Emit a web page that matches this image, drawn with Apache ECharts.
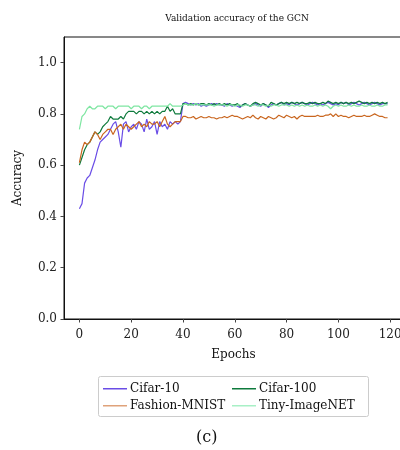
<!DOCTYPE html>
<html>
<head>
<meta charset="utf-8">
<script src="https://cdn.jsdelivr.net/npm/echarts@6/dist/echarts.min.js"></script>
<style>html,body{margin:0;padding:0;background:#fff}#c{width:400px;height:450px}</style>
</head>
<body>
<div id="c"></div>
<script>
const seriesNames = ['Cifar-10', 'Cifar-100', 'Fashion-MNIST', 'Tiny-ImageNET'];
const xTicks = [0, 20, 40, 60, 80, 100, 120];
const yTicks = [0, 0.2, 0.4, 0.6, 0.8, 1.0];

const cifar10 = [
  0.43, 0.45, 0.53, 0.55, 0.56, 0.59, 0.62, 0.66, 0.69, 0.70,
  0.71, 0.72, 0.74, 0.76, 0.77, 0.73, 0.67, 0.76, 0.77, 0.73,
  0.75, 0.76, 0.74, 0.77, 0.76, 0.73, 0.78, 0.74, 0.75, 0.77,
  0.72, 0.77, 0.75, 0.76, 0.74, 0.77, 0.76, 0.77, 0.76, 0.77,
  0.84, 0.845, 0.84, 0.835, 0.84, 0.835, 0.84, 0.83, 0.835, 0.83,
  0.835, 0.84, 0.835, 0.84, 0.835, 0.835, 0.83, 0.84, 0.835, 0.83,
  0.835, 0.83, 0.825, 0.835, 0.84, 0.835, 0.83, 0.835, 0.84, 0.835,
  0.83, 0.84, 0.835, 0.825, 0.835, 0.84, 0.835, 0.84, 0.845, 0.835,
  0.84, 0.835, 0.845, 0.84, 0.835, 0.84, 0.845, 0.84, 0.835, 0.84,
  0.845, 0.84, 0.835, 0.84, 0.835, 0.84, 0.845, 0.84, 0.835, 0.84,
  0.835, 0.845, 0.84, 0.845, 0.835, 0.84, 0.845, 0.84, 0.835, 0.84,
  0.845, 0.84, 0.835, 0.84, 0.845, 0.84, 0.835, 0.84, 0.84, 0.84
];
const cifar100 = [
  0.60, 0.63, 0.66, 0.68, 0.69, 0.71, 0.73, 0.72, 0.73, 0.75,
  0.76, 0.77, 0.79, 0.78, 0.78, 0.78, 0.79, 0.78, 0.80, 0.81,
  0.81, 0.81, 0.80, 0.81, 0.81, 0.80, 0.81, 0.80, 0.81, 0.80,
  0.81, 0.80, 0.81, 0.81, 0.83, 0.81, 0.82, 0.80, 0.80, 0.80,
  0.84, 0.84, 0.835, 0.84, 0.835, 0.84, 0.835, 0.84, 0.84, 0.835,
  0.84, 0.835, 0.84, 0.835, 0.84, 0.835, 0.84, 0.835, 0.84, 0.835,
  0.835, 0.84, 0.83, 0.835, 0.84, 0.835, 0.83, 0.84, 0.845, 0.84,
  0.835, 0.84, 0.835, 0.83, 0.845, 0.84, 0.835, 0.84, 0.845, 0.84,
  0.845, 0.84, 0.845, 0.84, 0.845, 0.84, 0.845, 0.84, 0.84, 0.845,
  0.84, 0.845, 0.84, 0.84, 0.845, 0.84, 0.85, 0.845, 0.84, 0.845,
  0.84, 0.845, 0.84, 0.845, 0.84, 0.845, 0.84, 0.845, 0.85, 0.845,
  0.84, 0.845, 0.84, 0.845, 0.84, 0.845, 0.84, 0.845, 0.84, 0.845
];
const fashion = [
  0.61, 0.66, 0.69, 0.68, 0.69, 0.71, 0.73, 0.72, 0.70, 0.72,
  0.73, 0.74, 0.74, 0.72, 0.74, 0.75, 0.76, 0.74, 0.76, 0.75,
  0.74, 0.75, 0.76, 0.77, 0.75, 0.76, 0.75, 0.77, 0.76, 0.76,
  0.77, 0.75, 0.77, 0.79, 0.76, 0.75, 0.76, 0.77, 0.77, 0.77,
  0.79, 0.79, 0.785, 0.785, 0.79, 0.78, 0.785, 0.79, 0.785, 0.785,
  0.79, 0.785, 0.785, 0.78, 0.785, 0.785, 0.79, 0.785, 0.79, 0.795,
  0.79, 0.79, 0.785, 0.78, 0.785, 0.79, 0.785, 0.795, 0.785, 0.78,
  0.79, 0.785, 0.78, 0.79, 0.785, 0.78, 0.785, 0.795, 0.79, 0.785,
  0.795, 0.79, 0.785, 0.79, 0.78, 0.79, 0.795, 0.79, 0.79, 0.79,
  0.79, 0.79, 0.795, 0.79, 0.79, 0.795, 0.795, 0.80, 0.79, 0.80,
  0.79, 0.795, 0.79, 0.79, 0.785, 0.79, 0.795, 0.79, 0.79, 0.79,
  0.795, 0.79, 0.79, 0.795, 0.80, 0.795, 0.79, 0.79, 0.785, 0.785
];
const tiny = [
  0.74, 0.79, 0.80, 0.82, 0.83, 0.82, 0.82, 0.83, 0.83, 0.83,
  0.82, 0.83, 0.83, 0.83, 0.82, 0.83, 0.83, 0.83, 0.83, 0.83,
  0.82, 0.83, 0.83, 0.83, 0.82, 0.83, 0.83, 0.82, 0.83, 0.83,
  0.83, 0.83, 0.83, 0.83, 0.83, 0.84, 0.83, 0.83, 0.83, 0.83,
  0.835, 0.84, 0.835, 0.835, 0.835, 0.84, 0.835, 0.835, 0.835, 0.835,
  0.835, 0.835, 0.83, 0.835, 0.835, 0.835, 0.835, 0.83, 0.835, 0.835,
  0.83, 0.835, 0.835, 0.83, 0.835, 0.835, 0.83, 0.835, 0.835, 0.83,
  0.835, 0.835, 0.83, 0.835, 0.83, 0.835, 0.835, 0.83, 0.835, 0.835,
  0.835, 0.83, 0.835, 0.83, 0.835, 0.83, 0.835, 0.83, 0.835, 0.83,
  0.83, 0.835, 0.83, 0.835, 0.83, 0.835, 0.83, 0.82, 0.83, 0.835,
  0.83, 0.835, 0.83, 0.83, 0.835, 0.83, 0.835, 0.83, 0.83, 0.835,
  0.83, 0.83, 0.835, 0.83, 0.83, 0.835, 0.83, 0.83, 0.835, 0.835
];

const seriesValues = [cifar10, cifar100, fashion, tiny];
const colors = ['#6a4de6', '#0e7a3c', '#c9661f', '#7fe6a2'];
const legendColors = ['#6a4de6', '#0e7a3c', '#dfa27a', '#a8f0c6'];
const FONT = 'DejaVu Serif';
const ICON = 'path://M0,0 L0.01,0 L0.01,0.01 Z M0,5.9 L24,5.9 L24,7.4 L0,7.4 Z M23.99,13 L24,13 L24,12.99 Z';

function legendCol(left, idx) {
  return {
    orient: 'vertical', left: left, top: 379,
    padding: [3, 4, 3, 4],
    itemWidth: 24, itemHeight: 13, itemGap: 4,
    icon: ICON,
    data: idx.map(i => ({name: seriesNames[i], itemStyle: {color: legendColors[i]}})),
    textStyle: {fontFamily: FONT, fontSize: 12, color: '#111', padding: [0, 0, 0, -2]}
  };
}

const chart = echarts.init(document.getElementById('c'), null, {renderer: 'canvas'});
chart.setOption({
  animation: false,
  backgroundColor: '#fff',
  title: {
    text: 'Validation accuracy of the GCN',
    left: 232, top: 9, textAlign: 'center',
    textStyle: {fontFamily: FONT, fontSize: 9, fontWeight: 'normal', color: '#111'}
  },
  grid: {left: 64, top: 37, right: -3, bottom: 131, outerBoundsMode: 'none', show: true, borderColor: '#111', borderWidth: 1, backgroundColor: 'transparent', containLabel: false},
  legend: [legendCol(99, [0, 2]), legendCol(228, [1, 3])],
  xAxis: {
    type: 'value', min: -5.95, max: 124.95,
    name: 'Epochs', nameLocation: 'middle', nameGap: 30,
    nameTextStyle: {fontFamily: FONT, fontSize: 12, color: '#111'},
    axisLine: {show: true, onZero: false, lineStyle: {color: '#111', width: 1}},
    axisTick: {show: true, length: 3.5, customValues: xTicks, lineStyle: {color: '#444'}},
    axisLabel: {customValues: xTicks, margin: 10, fontFamily: FONT, fontSize: 12, color: '#222'},
    splitLine: {show: false}
  },
  yAxis: {
    type: 'value', min: 0, max: 1.1,
    name: 'Accuracy', nameLocation: 'middle', nameGap: 40,
    nameTextStyle: {fontFamily: FONT, fontSize: 12, color: '#111'},
    axisLine: {show: true, onZero: false, lineStyle: {color: '#111', width: 1}},
    axisTick: {show: true, length: 3.5, customValues: yTicks, lineStyle: {color: '#444'}},
    axisLabel: {customValues: yTicks, margin: 7, fontFamily: FONT, fontSize: 12, color: '#222',
      formatter: v => v.toFixed(1)},
    splitLine: {show: false}
  },
  graphic: [{
    type: 'rect', shape: {x: 98.5, y: 376.5, width: 270, height: 40, r: 2},
    style: {fill: 'none', stroke: '#cccccc', lineWidth: 1}, silent: true
  }, {
    type: 'text', left: 196, top: 430,
    style: {text: '(c)', font: '16px "DejaVu Serif"', fill: '#111'}
  }],
  series: seriesNames.map((n, i) => ({
    name: n, type: 'line', symbol: 'none', showSymbol: false,
    color: colors[i],
    lineStyle: {width: 1.2, color: colors[i]},
    data: seriesValues[i].map((v, k) => [k, v])
  }))
});
</script>
</body>
</html>
